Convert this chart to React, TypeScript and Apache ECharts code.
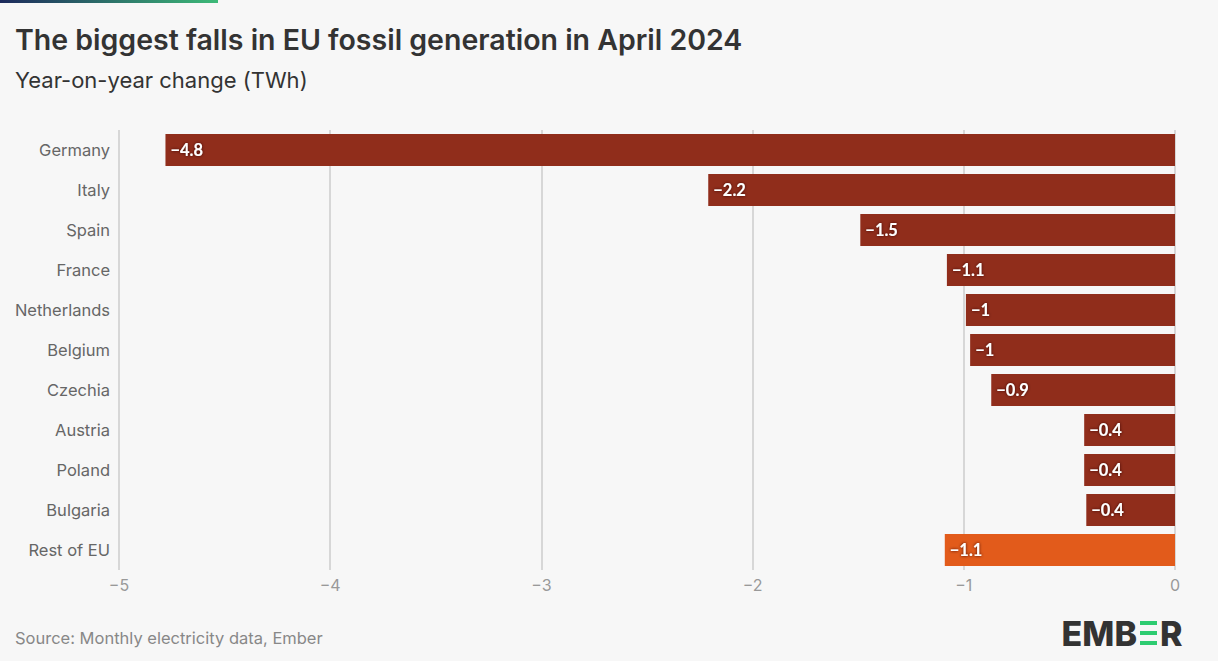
import React, { useEffect, useRef } from "react";
import * as echarts from "echarts";

const countries = ["Germany", "Italy", "Spain", "France", "Netherlands", "Belgium", "Czechia", "Austria", "Poland", "Bulgaria", "Rest of EU"];
const changes = [-4.78, -2.21, -1.49, -1.08, -0.99, -0.97, -0.87, -0.43, -0.43, -0.42, -1.09];
const xTicks = [-5, -4, -3, -2, -1, 0];

const barColor = "#902d1b";
const restColor = "#e25b1b";

const fmt = (v: number) => {
  const r = Math.round(v * 10) / 10;
  return String(r).replace("-", "\u2212");
};

export default function App() {
  const ref = useRef<HTMLDivElement>(null);
  useEffect(() => {
    if (!ref.current) return;
    const chart = echarts.init(ref.current, undefined, { renderer: "svg" });
    chart.setOption({
      animation: false,
      backgroundColor: "#f7f7f7",
      textStyle: { fontFamily: "Inter, 'Noto Sans', sans-serif" },
      grid: { left: 119, right: 43, top: 130, bottom: 91, containLabel: false },
      xAxis: {
        type: "value",
        min: xTicks[0],
        max: xTicks[xTicks.length - 1],
        interval: 1,
        axisLine: { show: false },
        axisTick: { show: false },
        splitLine: { show: true, lineStyle: { color: "#cccccc", width: 1.5 } },
        axisLabel: {
          color: "#999",
          fontSize: 16,
          margin: 7,
          formatter: (v: number) => String(v).replace("-", "\u2212"),
        },
      },
      yAxis: {
        type: "category",
        inverse: true,
        data: countries,
        axisLine: { show: false },
        axisTick: { show: false },
        axisLabel: { color: "#666", fontSize: 16.5, margin: 9 },
      },
      series: [
        {
          type: "bar",
          barWidth: 32,
          data: changes.map((v, i) => ({
            value: v,
            itemStyle: { color: i === countries.length - 1 ? restColor : barColor },
          })),
          label: {
            show: true,
            position: "insideLeft",
            distance: 5,
            color: "#fff",
            fontFamily: "Lato, sans-serif",
            fontWeight: "bold",
            fontSize: 16.5,
            textShadowColor: "rgba(50,8,0,0.95)",
            textShadowBlur: 3,
            formatter: (p: any) => fmt(p.value),
          },
        },
      ],
      graphic: [
        {
          type: "rect",
          shape: { x: 0, y: 0, width: 218, height: 3 },
          style: {
            fill: new echarts.graphic.LinearGradient(0, 0, 1, 0, [
              { offset: 0, color: "#1d2a5c" },
              { offset: 1, color: "#3dba78" },
            ]),
          },
        },
        {
          type: "text",
          x: 15,
          y: 39,
          style: {
            text: "The biggest falls in EU fossil generation in April 2024",
            fontSize: 28.5,
            fontWeight: 600,
            fontFamily: "Inter, sans-serif",
            fill: "#333",
            verticalAlign: "middle",
          },
        },
        {
          type: "text",
          x: 15,
          y: 80,
          style: {
            text: "Year-on-year change (TWh)",
            fontSize: 22,
            fontFamily: "Inter, sans-serif",
            fill: "#333",
            verticalAlign: "middle",
          },
        },
        {
          type: "text",
          x: 15,
          y: 638,
          style: {
            text: "Source: Monthly electricity data, Ember",
            fontSize: 16.5,
            fontFamily: "Inter, sans-serif",
            fill: "#888",
            verticalAlign: "middle",
          },
        },
        {
          type: "text",
          x: 1137,
          y: 633,
          style: {
            text: "EMB",
            fontSize: 34,
            fontWeight: 800,
            fontFamily: "Inter, sans-serif",
            fill: "#333",
            align: "right",
            verticalAlign: "middle",
          },
        },
        { type: "rect", shape: { x: 1140, y: 621, width: 17, height: 4 }, style: { fill: "#2ecc71" } },
        { type: "rect", shape: { x: 1140, y: 631, width: 17, height: 4 }, style: { fill: "#2ecc71" } },
        { type: "rect", shape: { x: 1140, y: 641, width: 17, height: 4 }, style: { fill: "#2ecc71" } },
        {
          type: "text",
          x: 1160,
          y: 633,
          style: {
            text: "R",
            fontSize: 34,
            fontWeight: 800,
            fontFamily: "Inter, sans-serif",
            fill: "#333",
            align: "left",
            verticalAlign: "middle",
          },
        },
      ],
    });
    return () => chart.dispose();
  }, []);
  return <div ref={ref} style={{ position: "fixed", left: 0, top: 0, width: 1218, height: 661 }} />;
}
